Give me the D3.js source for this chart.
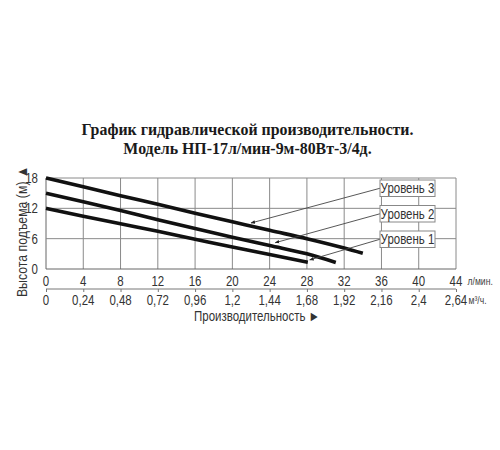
<!DOCTYPE html>
<html><head><meta charset="utf-8">
<script src="https://cdn.jsdelivr.net/npm/d3@7"></script>
<style>body{margin:0;background:#fff}svg{display:block}</style>
</head><body>
<svg id="c" width="500" height="450"></svg>
<script>
const titleLines = ["График гидравлической производительности.", "Модель НП-17л/мин-9м-80Вт-3/4д."];
const yLabel = "Высота подъема (м) ▲";
const xLabel = "Производительность ►";
const xTicks = [0,4,8,12,16,20,24,28,32,36,40,44];
const yTicks = [0,6,12,18];
const m3Labels = ["0","0,24","0,48","0,72","0,96","1,2","1,44","1,68","1,92","2,16","2,4","2,64"];
const unitLmin = "л/мин.";
const unitM3 = "м³/ч.";
const level3X = [0,4,8,12,16,20,24,28,32,34];
const level3Y = [18,16.25,14.5,12.8,11.05,9.35,7.65,6.0,4.15,3.1];
const level2X = [0,4,8,12,16,20,24,28,31.1];
const level2Y = [15,13.3,11.55,9.75,8.0,6.3,4.65,3.0,1.3];
const level1X = [0,4,8,12,16,20,24,28.1];
const level1Y = [12,10.45,8.95,7.45,5.9,4.35,2.85,1.35];
const legendLabels = ["Уровень 3","Уровень 2","Уровень 1"];
const arrowTargetX = [22, 24.6, 28.3];
const arrowTargetY = [9.1, 5.2, 1.8];

const svg = d3.select("#c");
const x = d3.scaleLinear().domain([0,44]).range([46,456]);
const y = d3.scaleLinear().domain([0,18]).range([269,178]);
const SX = 0.82;
const sans = "Liberation Sans, Arial, sans-serif";

function ntext(sel, tx, ty, str, opts){
  const o = Object.assign({size:14, anchor:"middle", fill:"#333", rot:0}, opts||{});
  return sel.append("text")
    .attr("transform",`translate(${tx},${ty})${o.rot?` rotate(${o.rot})`:""} scale(${SX},1)`)
    .attr("text-anchor",o.anchor).attr("font-family",sans).attr("font-size",o.size)
    .attr("fill",o.fill).text(str);
}

// title
svg.selectAll("text.title").data(titleLines).join("text")
  .attr("x",247.5).attr("y",(d,i)=>135+i*18.5)
  .attr("text-anchor","middle")
  .attr("font-family","Liberation Serif, Times New Roman, serif")
  .attr("font-weight","bold").attr("font-size",15.9).attr("fill","#1a1a1a")
  .text(d=>d);

// grid
const g = svg.append("g");
g.selectAll("line.vx").data(xTicks).join("line")
  .attr("x1",d=>x(d)).attr("x2",d=>x(d)).attr("y1",y(0)).attr("y2",y(18))
  .attr("stroke",d=>d===0?"#666":"#8a8a8a").attr("stroke-width",1);
g.selectAll("line.hy").data(yTicks).join("line")
  .attr("x1",x(0)).attr("x2",x(44)).attr("y1",d=>y(d)).attr("y2",d=>y(d))
  .attr("stroke",d=>d===0?"#666":"#8a8a8a").attr("stroke-width",1);

// y ticks
yTicks.forEach(d=>ntext(svg, 38, y(d)+5, d, {anchor:"end"}));
// x ticks row 1
xTicks.forEach(d=>ntext(svg, x(d), 285.5, d));
ntext(svg, 467.5, 285, unitLmin, {size:10.5, anchor:"start", fill:"#444"});
// second axis
const xb = d3.axisBottom(x).tickValues(xTicks).tickSize(3).tickFormat("");
const ax = svg.append("g").attr("transform","translate(0,289)").call(xb);
ax.select(".domain").attr("stroke","#777").attr("d",`M${x(0)},0H${x(44)}`);
ax.selectAll(".tick line").attr("stroke","#777");
xTicks.forEach((d,i)=>ntext(svg, x(d), 304.5, m3Labels[i]));
ntext(svg, 468.5, 304, unitM3, {size:10.5, anchor:"start", fill:"#444"});

// axis titles
ntext(svg, 257, 320.5, xLabel);
ntext(svg, 27, 231.5, yLabel, {rot:-90, size:15});

// curves
const series = [[level3X,level3Y],[level2X,level2Y],[level1X,level1Y]];
const line = d3.line().x(d=>x(d[0])).y(d=>y(d[1])).curve(d3.curveMonotoneX);
svg.selectAll("path.lv").data(series).join("path")
  .attr("d",s=>line(s[0].map((v,i)=>[v,s[1][i]])))
  .attr("fill","none").attr("stroke","#111").attr("stroke-width",3.6);

// legend boxes + arrows
svg.append("defs").append("marker").attr("id","ah").attr("viewBox","0 0 10 10")
  .attr("refX",9).attr("refY",5).attr("markerWidth",5).attr("markerHeight",5).attr("orient","auto")
  .append("path").attr("d","M0,1L10,5L0,9Z").attr("fill","#222");
const bx = 380, bw = 55, bh = 16.5, by0 = 180, bstep = 25.5;
legendLabels.forEach((lab,i)=>{
  const top = by0 + i*bstep;
  svg.append("line").attr("x1",bx).attr("y1",top+bh/2)
    .attr("x2",x(arrowTargetX[i])).attr("y2",y(arrowTargetY[i]))
    .attr("stroke","#444").attr("stroke-width",0.9).attr("marker-end","url(#ah)");
  svg.append("rect").attr("x",bx).attr("y",top).attr("width",bw).attr("height",bh)
    .attr("fill","#fff").attr("stroke","#888").attr("stroke-width",1);
  ntext(svg, bx+bw/2, top+bh/2+4.8, lab, {size:14});
});
</script>
</body></html>
